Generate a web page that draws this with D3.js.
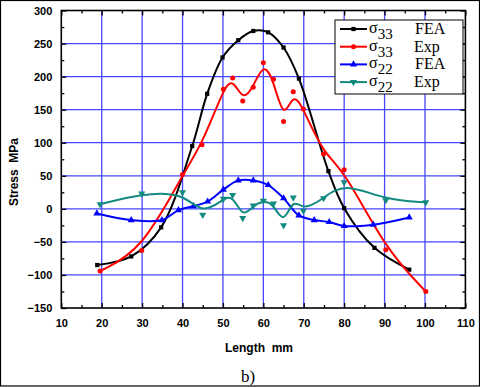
<!DOCTYPE html>
<html>
<head>
<meta charset="utf-8">
<script src="https://cdn.jsdelivr.net/npm/d3@7"></script>
<style>
  body { margin: 0; background: #fff; }
  svg { display: block; }
  .tick text { font-family: Arial, "Liberation Sans", sans-serif; font-weight: bold; }
  text { white-space: pre; }
</style>
</head>
<body>
<svg width="480" height="387"></svg>
<script>
// [length mm, stress MPa]
var s33Fea = [[18.9,-85],[27.3,-72],[34.7,-28],[42.4,95],[46.1,174],[49.9,229],[53.8,255],
  [57.5,269],[61.2,267],[65,244],[68.8,197],[76.1,57],[80,1],[87.5,-59],[96.1,-92]];
var s33Exp = [[19.6,-94],[29.9,-63],[40,52],[44.8,97],[50.1,181],[52.4,198],[54.9,163],
  [57.5,184],[60,221],[62.5,196],[65,132],[67.4,177],[69.9,151],[74.9,83],[80,59],
  [90.3,-62],[100.2,-125]];
var s22Fea = [[18.8,-7],[27.3,-17],[34.9,-17],[39,-2],[42.7,4],[46.2,11],[50.1,29],[53.8,43],
  [57.5,43],[61.2,36],[65,16],[68.8,-10],[72.6,-17],[76.3,-20],[80,-26],[87.2,-24],[96.1,-13]];
var s22Exp = [[19.6,7],[29.9,23],[40,25],[45,-9],[50.1,15],[52.4,21],[54.9,-14],[57.5,5],
  [60,12],[62.5,8],[65,-25],[67.4,17],[69.9,-3],[74.9,16],[80,40],[90.3,13],[100.2,10]];

var xTicks = [10,20,30,40,50,60,70,80,90,100,110];
var yTicks = [-150,-100,-50,0,50,100,150,200,250,300];
var legendRows = [
  {sub: "33", tag: "FEA", color: "black", mark: "square"},
  {sub: "33", tag: "Exp", color: "red", mark: "circle"},
  {sub: "22", tag: "FEA", color: "blue", mark: "up"},
  {sub: "22", tag: "Exp", color: "#138a7f", mark: "down"}
];

var svg = d3.select("svg");

// frame round the whole figure
svg.append("rect").attr("x",0.5).attr("y",0.5).attr("width",479).attr("height",385.5)
  .attr("fill","none").attr("stroke","black").attr("stroke-width",1.2);

var pLeft = 61.3, pRight = 465.4, pTop = 10.5, pBottom = 308;
var x = d3.scaleLinear().domain([10,110]).range([pLeft,pRight]);
var y = d3.scaleLinear().domain([-150,300]).range([pBottom,pTop]);

// blue grid
var grid = svg.append("g").attr("stroke","#4646ff").attr("stroke-width",1.3);
grid.selectAll(".gx").data(xTicks.slice(1,-1)).enter().append("line")
  .attr("x1",d => x(d)).attr("x2",d => x(d)).attr("y1",pTop).attr("y2",pBottom);
grid.selectAll(".gy").data(yTicks.slice(1,-1)).enter().append("line")
  .attr("y1",d => y(d)).attr("y2",d => y(d)).attr("x1",pLeft).attr("x2",pRight);

// axes with inward ticks on all sides
var minorX = d3.range(15,110,10), minorY = d3.range(-125,300,50);
function tickSide(axisFn, scale, vals, len, labels, tr) {
  var a = axisFn(scale).tickValues(vals).tickSizeInner(-len).tickSizeOuter(0).tickPadding(len+4);
  if (!labels) a.tickFormat("");
  var g = svg.append("g").attr("transform",tr).call(a);
  g.select(".domain").remove();
  g.selectAll("line").attr("stroke","black").attr("stroke-width",1.3);
  g.selectAll("text").attr("font-size",11).attr("fill","black");
  return g;
}
tickSide(d3.axisBottom, x, xTicks, 5, true, "translate(0,"+pBottom+")").selectAll("text").attr("dy","0.9em");
tickSide(d3.axisBottom, x, minorX, 3, false, "translate(0,"+pBottom+")");
tickSide(d3.axisTop, x, xTicks, 5, false, "translate(0,"+pTop+")");
tickSide(d3.axisTop, x, minorX, 3, false, "translate(0,"+pTop+")");
tickSide(d3.axisLeft, y, yTicks, 5, true, "translate("+pLeft+",0)");
tickSide(d3.axisLeft, y, minorY, 3, false, "translate("+pLeft+",0)");
tickSide(d3.axisRight, y, yTicks, 5, false, "translate("+pRight+",0)");
tickSide(d3.axisRight, y, minorY, 3, false, "translate("+pRight+",0)");

svg.append("rect").attr("x",pLeft).attr("y",pTop).attr("width",pRight-pLeft).attr("height",pBottom-pTop)
  .attr("fill","none").attr("stroke","black").attr("stroke-width",1.6);

// series
var symbols = {
  square: d3.symbol().type(d3.symbolSquare).size(18),
  circle: d3.symbol().type(d3.symbolCircle).size(20),
  up: d3.symbol().type(d3.symbolTriangle).size(22),
  down: d3.symbol().type(d3.symbolTriangle).size(22)
};
var series = [
  {data: s33Fea, color: "black", mark: "square", curve: d3.curveCatmullRom},
  {data: s33Exp, color: "red", mark: "circle", curve: d3.curveBasis},
  {data: s22Fea, color: "blue", mark: "up", curve: d3.curveCatmullRom},
  {data: s22Exp, color: "#138a7f", mark: "down", curve: d3.curveBasis}
];
series.forEach(function(s) {
  var line = d3.line().x(d => x(d[0])).y(d => y(d[1])).curve(s.curve);
  svg.append("path").datum(s.data).attr("d",line).attr("fill","none")
    .attr("stroke",s.color).attr("stroke-width",2);
  svg.append("g").selectAll("path").data(s.data).enter().append("path")
    .attr("d",symbols[s.mark]).attr("fill",s.color)
    .attr("transform",d => "translate("+x(d[0])+","+y(d[1])+")"+(s.mark=="down"?" rotate(180)":""));
});

// legend
var lg = svg.append("g").attr("transform","translate(335,20)");
lg.append("rect").attr("width",128).attr("height",74).attr("fill","white")
  .attr("stroke","black").attr("stroke-width",1);
legendRows.forEach(function(r,i) {
  var yy = 9 + i*17.7;
  lg.append("line").attr("x1",5).attr("x2",32).attr("y1",yy).attr("y2",yy)
    .attr("stroke",r.color).attr("stroke-width",2);
  lg.append("path").attr("d",symbols[r.mark]).attr("fill",r.color)
    .attr("transform","translate(18.5,"+yy+")"+(r.mark=="down"?" rotate(180)":""));
  var t = lg.append("text").attr("x",34).attr("y",yy+4)
    .attr("font-family","'Liberation Serif', 'Times New Roman', serif").attr("font-size",16);
  t.append("tspan").text("\u03c3");
  t.append("tspan").attr("dy",6).attr("font-size",15).text(r.sub);
  lg.append("text").attr("x",r.tag=="FEA"?80:79).attr("y",yy+5)
    .attr("font-family","'Liberation Serif', 'Times New Roman', serif").attr("font-size",16)
    .text(r.tag);
});

// axis titles
svg.append("text").attr("transform","translate(18,172) rotate(-90)").attr("text-anchor","middle")
  .attr("font-family","Arial, 'Liberation Sans', sans-serif").attr("font-weight","bold")
  .attr("font-size",12).text("Stress  MPa");
svg.append("text").attr("x",259).attr("y",352).attr("text-anchor","middle")
  .attr("font-family","Arial, 'Liberation Sans', sans-serif").attr("font-weight","bold")
  .attr("font-size",12).text("Length  mm");
svg.append("text").attr("x",248).attr("y",382).attr("text-anchor","middle")
  .attr("font-family","'Liberation Serif', 'Times New Roman', serif")
  .attr("font-size",17).text("b)");
</script>
</body>
</html>
